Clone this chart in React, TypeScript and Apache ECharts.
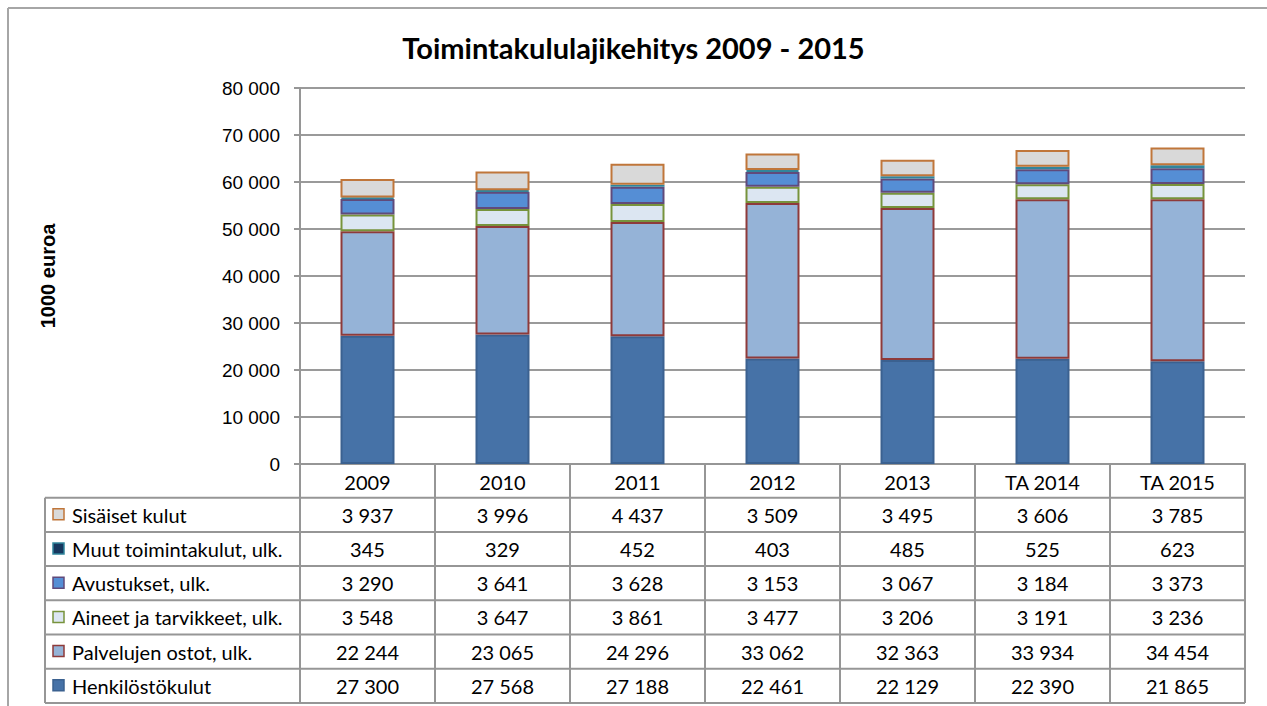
import React, { useEffect, useRef } from "react";
import * as echarts from "echarts";

const categories = ["2009", "2010", "2011", "2012", "2013", "TA 2014", "TA 2015"];
const henkilosto = [27300, 27568, 27188, 22461, 22129, 22390, 21865];
const palvelut = [22244, 23065, 24296, 33062, 32363, 33934, 34454];
const aineet = [3548, 3647, 3861, 3477, 3206, 3191, 3236];
const avustukset = [3290, 3641, 3628, 3153, 3067, 3184, 3373];
const muut = [345, 329, 452, 403, 485, 525, 623];
const sisaiset = [3937, 3996, 4437, 3509, 3495, 3606, 3785];

const seriesNames = [
  "Henkilöstökulut",
  "Palvelujen ostot, ulk.",
  "Aineet ja tarvikkeet, ulk.",
  "Avustukset, ulk.",
  "Muut toimintakulut, ulk.",
  "Sisäiset kulut",
];
const seriesData = [henkilosto, palvelut, aineet, avustukset, muut, sisaiset];
const fills = ["#4672A7", "#95B3D7", "#DCE6F2", "#558ED5", "#17375E", "#D9D9D9"];
const borders = ["#3B6190", "#8E3A3A", "#77933C", "#604A7B", "#31859C", "#C0763A"];

const fmt = (v: number) => String(v).replace(/\B(?=(\d{3})+(?!\d))/g, " ");

export default function App() {
  const ref = useRef<HTMLDivElement>(null);
  useEffect(() => {
    if (!ref.current) return;
    const chart = echarts.init(ref.current, null, { renderer: "svg" });
    const gridLeft = 300;
    const gridRight = 1245;
    const gridTop = 88;
    const gridBottom = 464;
    const tableBottom = 703;
    chart.setOption({
      animation: false,
      backgroundColor: "#ffffff",
      title: {
        text: "Toimintakululajikehitys 2009 - 2015",
        left: "center",
        top: 28,
        textStyle: { fontFamily: "Lato", fontWeight: "bold", fontSize: 29, color: "#000" },
      },
      grid: {
        left: gridLeft,
        right: 1267 - gridRight,
        top: gridTop,
        bottom: 706 - gridBottom,
        containLabel: false,
      },
      xAxis: {
        type: "category",
        data: categories,
        axisLine: { show: true, lineStyle: { color: "#969696", width: 2 } },
        axisTick: {
          show: true,
          interval: 0,
          length: tableBottom - gridBottom,
          lineStyle: { color: "#969696", width: 2 },
        },
        axisLabel: {
          interval: 0,
          margin: 8,
          fontFamily: "Lato",
          fontSize: 20,
          lineHeight: 20,
          color: "#000",
        },
      },
      yAxis: {
        type: "value",
        min: 0,
        max: 80000,
        interval: 10000,
        name: "1000 euroa",
        nameLocation: "middle",
        nameGap: 242,
        nameTextStyle: { fontFamily: "Liberation Sans", fontWeight: "bold", fontSize: 20, color: "#000" },
        axisLine: { show: true, lineStyle: { color: "#969696", width: 2 } },
        axisTick: { show: true, length: 6, lineStyle: { color: "#969696", width: 2 } },
        splitLine: { show: true, lineStyle: { color: "#9a9a9a", width: 2 } },
        axisLabel: {
          margin: 20,
          fontFamily: "Liberation Sans",
          fontSize: 19,
          color: "#000",
          formatter: (v: number) => fmt(v),
        },
      },
      series: seriesNames.map((name, i) => ({
        name,
        type: "bar",
        stack: "total",
        barWidth: 54,
        data: seriesData[i],
        itemStyle: { color: fills[i], borderColor: borders[i], borderWidth: 2 },
      })),
    });

    // Data table drawn with graphic elements, using the axis scale for columns
    const rowOrder = [5, 4, 3, 2, 1, 0];
    const tableTop = 497.7;
    const rowH = 34.2;
    const tableLeft = 45;
    const graphics: any[] = [];
    graphics.push({ type: "line", shape: { x1: 8, y1: 8, x2: 1267, y2: 8 }, style: { stroke: "#a6a6a6", lineWidth: 2 } });
    graphics.push({ type: "line", shape: { x1: 8, y1: 8, x2: 8, y2: 706 }, style: { stroke: "#a6a6a6", lineWidth: 2 } });
    for (let r = 0; r <= rowOrder.length; r++) {
      const y = tableTop + r * rowH;
      graphics.push({
        type: "line",
        shape: { x1: tableLeft, y1: y, x2: gridRight, y2: y },
        style: { stroke: "#969696", lineWidth: 2 },
      });
    }
    graphics.push({
      type: "line",
      shape: { x1: tableLeft, y1: tableTop, x2: tableLeft, y2: tableTop + rowOrder.length * rowH },
      style: { stroke: "#969696", lineWidth: 2 },
    });
    rowOrder.forEach((si, r) => {
      const cy = tableTop + r * rowH + rowH / 2;
      graphics.push({
        type: "rect",
        shape: { x: 53, y: cy - 6, width: 11, height: 11 },
        style: { fill: fills[si], stroke: borders[si], lineWidth: 1.5 },
      });
      graphics.push({
        type: "text",
        x: 72,
        y: cy,
        style: {
          text: seriesNames[si],
          fontFamily: "Lato",
          fontSize: 20,
          fill: "#000",
          verticalAlign: "middle",
          align: "left",
        },
      });
      seriesData[si].forEach((v, ci) => {
        const px = chart.convertToPixel({ xAxisIndex: 0 }, ci) as number;
        graphics.push({
          type: "text",
          x: px,
          y: cy,
          style: {
            text: fmt(v),
            fontFamily: "Lato",
            fontSize: 20,
            fill: "#000",
            verticalAlign: "middle",
            align: "center",
          },
        });
      });
    });
    chart.setOption({ graphic: graphics });
    return () => chart.dispose();
  }, []);
  return (
    <div
      ref={ref}
      style={{ position: "fixed", left: 0, top: 0, width: 1267, height: 706 }}
    />
  );
}
